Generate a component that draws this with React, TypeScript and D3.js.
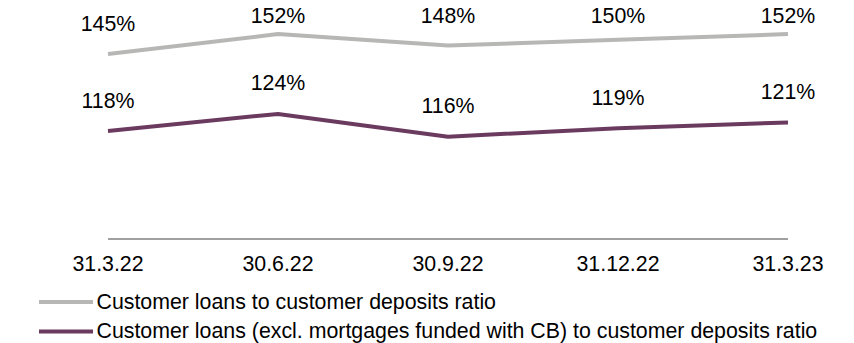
import React from "react";
import * as d3 from "d3";

const categories = ["31.3.22", "30.6.22", "30.9.22", "31.12.22", "31.3.23"];
const loansToDeposits = [145, 152, 148, 150, 152];
const loansExclMortgages = [118, 124, 116, 119, 121];
const seriesNames = [
  "Customer loans to customer deposits ratio",
  "Customer loans (excl. mortgages funded with CB) to customer deposits ratio",
];
const seriesColors = ["#b7b7b5", "#6b3a5f"];

const W = 854;
const H = 343;
const FONT = "Arial, 'Liberation Sans', Helvetica, sans-serif";
const FS = 21.33;

export default function App() {
  const x = d3.scalePoint<string>().domain(categories).range([108, 788]);
  const y = d3.scaleLinear().domain([80, 160]).range([239.3, 11.3]);
  const series = [loansToDeposits, loansExclMortgages];
  const line = d3
    .line<number>()
    .x((_, i) => x(categories[i]) as number)
    .y((d) => y(d));

  return (
    <svg
      width={W}
      height={H}
      style={{ position: "absolute", left: 0, top: 0, background: "#fff" }}
      fontFamily={FONT}
    >
      <line x1={108} x2={788} y1={239} y2={239} stroke="#808080" strokeWidth={1.5} />
      {categories.map((c) => (
        <text key={c} x={x(c)} y={270.5} textAnchor="middle" fontSize={FS} fill="#000">
          {c}
        </text>
      ))}
      {series.map((s, si) => (
        <g key={si}>
          <path d={line(s) || ""} fill="none" stroke={seriesColors[si]} strokeWidth={4} strokeLinejoin="round" />
          {s.map((v, i) => (
            <text
              key={i}
              x={x(categories[i])}
              y={Math.max(y(v) - 23.5, 22.7)}
              textAnchor="middle"
              fontSize={FS}
              fill="#000"
            >
              {v}%
            </text>
          ))}
        </g>
      ))}
      {seriesNames.map((n, i) => (
        <g key={n} transform={`translate(0, ${302 + i * 29.5})`}>
          <line x1={39} x2={93} y1={0} y2={0} stroke={seriesColors[i]} strokeWidth={4} />
          <text x={96.5} y={6.8} fontSize={FS} fill="#000">
            {n}
          </text>
        </g>
      ))}
    </svg>
  );
}
